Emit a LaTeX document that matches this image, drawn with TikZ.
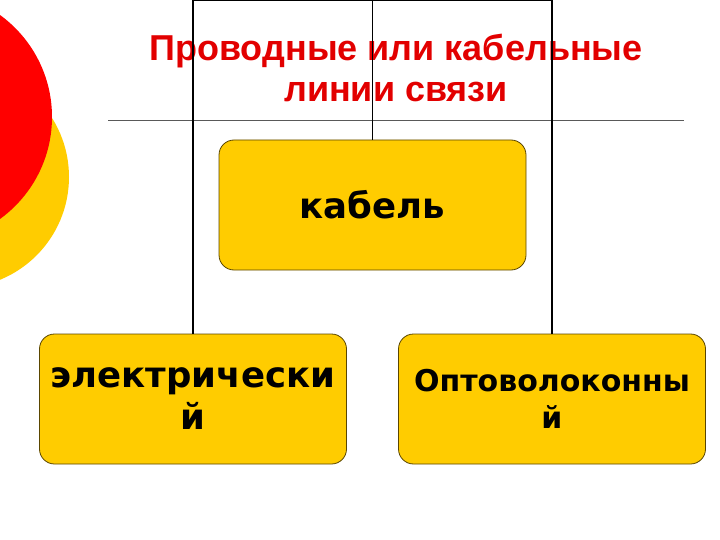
\documentclass[tikz,border=0pt]{standalone}
\usepackage{fontspec}
\setmainfont{DejaVu Sans}
\newfontfamily\headfont{Liberation Sans}
\usetikzlibrary{positioning}
\definecolor{gold}{RGB}{255,204,0}
\definecolor{headred}{RGB}{226,0,0}
\definecolor{rimbrown}{RGB}{90,70,0}

\begin{document}
\begin{tikzpicture}[x=1pt,y=-1pt,
	kind/.style={draw=rimbrown, line width=.8pt, fill=gold, rounded corners=15pt,
		minimum width=307pt, minimum height=130pt, align=center, inner sep=0pt,
		font=\bfseries\fontsize{35.5}{42}\selectfont},
	wire/.style={line width=1.6pt}]
	\useasboundingbox (0,0) rectangle (720,540);
	% background discs
	\fill[gold] (-42,177) circle (111);
	\fill[red] (-74,117) circle (126);
	% title
	\node[text=headred, align=center, font=\headfont\bfseries\fontsize{36}{41}\selectfont] (head) at (396,68) {Проводные или кабельные\\линии связи};
	\draw[gray!70!black, line width=.8pt] (108,120) -- (684,120);
	% boxes
	\node[kind] (cable) at (372.5,205) {кабель};
	\node[kind] (elec) at (193,399) {электрически\\й};
	\node[kind, font=\bfseries\fontsize{30}{37}\selectfont] (fibre) at (552,399) {Оптоволоконны\\й};
	\coordinate (top) at (372.5,0);
	\draw[wire] (elec.north) |- (top) -| (fibre.north);
	\draw[wire] (cable.north) -- (top);
\end{tikzpicture}
\end{document}
